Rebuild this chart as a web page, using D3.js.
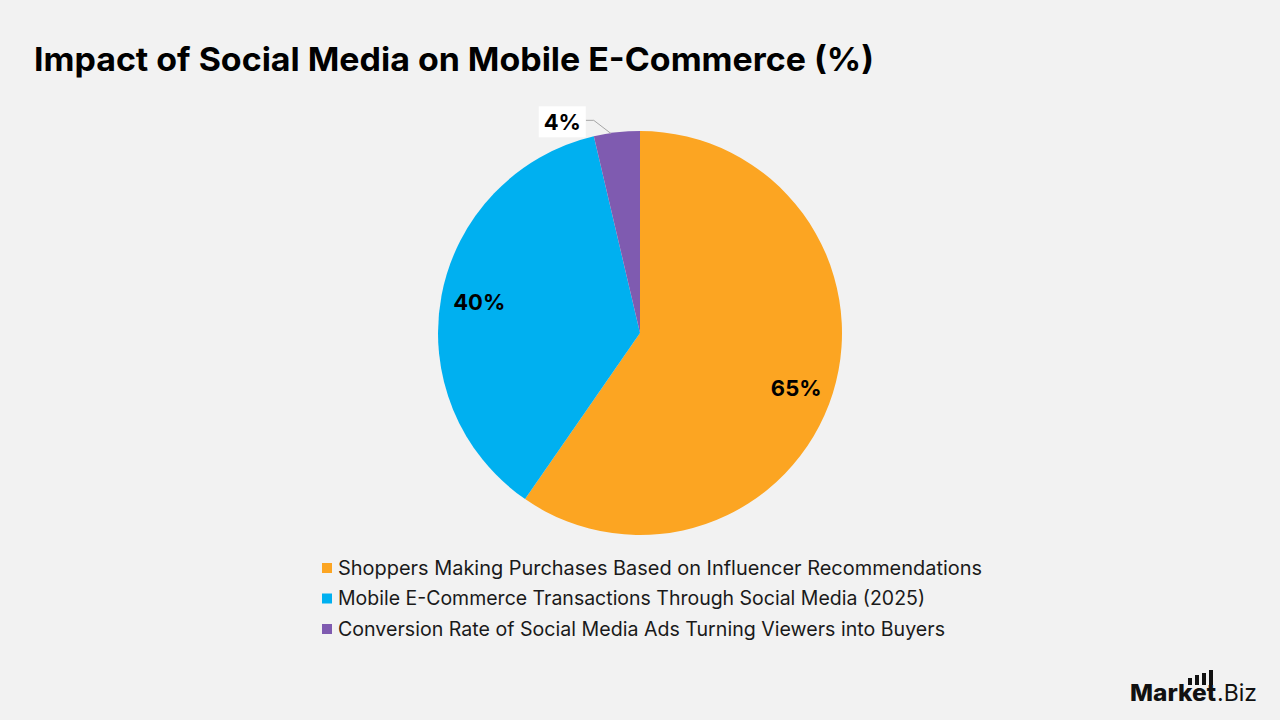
<!DOCTYPE html>
<html>
<head>
<meta charset="utf-8">
<script src="https://cdn.jsdelivr.net/npm/d3@7"></script>
<style>
  body { margin: 0; background: #f2f2f2; }
  svg { display: block; font-family: "Inter", "Open Sans", sans-serif; }
</style>
</head>
<body>
<svg id="chart" width="1280" height="720"></svg>
<script>
"use strict";

const categories = [
    "Shoppers Making Purchases Based on Influencer Recommendations",
    "Mobile E-Commerce Transactions Through Social Media (2025)",
    "Conversion Rate of Social Media Ads Turning Viewers into Buyers"
];
const values = [65, 40, 4];
const colors = ["#fca522", "#00b0f0", "#7f5bb0"];
const legendWidths = [644, 587, 607];

const svg = d3.select("#chart");
const cx = 640, cy = 333, radius = 202;

svg.append("rect").attr("width", 1280).attr("height", 720).attr("fill", "#f2f2f2");

// title
svg.append("text")
    .attr("x", 34).attr("y", 71)
    .attr("font-size", 33).attr("font-weight", 700)
    .attr("textLength", 840).attr("lengthAdjust", "spacingAndGlyphs")
    .attr("fill", "#000")
    .text("Impact of Social Media on Mobile E-Commerce (%)");

const pie = d3.pie().sort(null).value((d) => d.value);
const arcs = pie(values.map((v, i) => ({ value: v, name: categories[i], color: colors[i], w: legendWidths[i] })));
const arc = d3.arc().innerRadius(0).outerRadius(radius);

const g = svg.append("g").attr("transform", `translate(${cx},${cy})`);
g.selectAll("path.slice")
    .data(arcs)
    .join("path")
    .attr("class", "slice")
    .attr("d", arc)
    .attr("fill", (d) => d.data.color);

// inside labels for the two large slices
const labelArc = d3.arc().innerRadius(radius * 0.81).outerRadius(radius * 0.81);
g.selectAll("text.inside")
    .data(arcs.filter((d) => d.data.value > 10))
    .join("text")
    .attr("class", "inside")
    .attr("transform", (d) => {
        const [x, y] = labelArc.centroid(d);
        // labels in the lower half sit a little lower
        return `translate(${x},${y > 0 ? y + 7 : y})`;
    })
    .attr("text-anchor", "middle")
    .attr("dy", "0.35em")
    .attr("font-size", 22).attr("font-weight", 700)
    .text((d) => `${d.data.value}%`);

// outside label for the small slice, with leader line
const small = arcs.filter((d) => d.data.value <= 10);
small.forEach((d) => {
    const mid = (d.startAngle + d.endAngle) / 2;
    const edge = [Math.sin(mid) * radius, -Math.cos(mid) * radius];
    const lx = edge[0] - 31, ly = edge[1] - 10;
    g.append("polyline")
        .attr("points", `${edge[0] - 6},${edge[1] + 1} ${lx + 8},${ly - 2} ${lx},${ly - 2}`)
        .attr("fill", "none").attr("stroke", "#a6a6a6").attr("stroke-width", 1);
    g.append("rect")
        .attr("x", lx - 47).attr("y", ly - 16)
        .attr("width", 47).attr("height", 31)
        .attr("fill", "#fff");
    g.append("text")
        .attr("x", lx - 23.5).attr("y", ly)
        .attr("text-anchor", "middle").attr("dy", "0.35em")
        .attr("font-size", 22).attr("font-weight", 700)
        .text(`${d.data.value}%`);
});

// legend
const legend = svg.append("g").attr("transform", "translate(322,568)");
const rows = legend.selectAll("g")
    .data(arcs)
    .join("g")
    .attr("transform", (d, i) => `translate(0,${i * 30.5})`);
rows.append("rect")
    .attr("x", 0).attr("y", -5).attr("width", 10).attr("height", 10)
    .attr("fill", (d) => d.data.color);
rows.append("text")
    .attr("x", 16).attr("dy", "0.35em")
    .attr("font-size", 19.5).attr("fill", "#1a1a1a")
    .attr("textLength", (d) => d.data.w).attr("lengthAdjust", "spacingAndGlyphs")
    .text((d) => d.data.name);

// logo
const logo = svg.append("g").attr("transform", "translate(1130,701)");
logo.append("text")
    .attr("x", 0).attr("y", 0)
    .attr("font-size", 23).attr("font-weight", 800).attr("fill", "#111")
    .attr("textLength", 86).attr("lengthAdjust", "spacingAndGlyphs")
    .text("Market");
logo.append("text")
    .attr("x", 87).attr("y", 0)
    .attr("font-size", 23).attr("font-weight", 400).attr("fill", "#111")
    .attr("textLength", 40).attr("lengthAdjust", "spacingAndGlyphs")
    .text(".Biz");
const barHeights = [7, 10, 12, 15];
logo.selectAll("rect.bar")
    .data(barHeights)
    .join("rect")
    .attr("class", "bar")
    .attr("x", (d, i) => 58 + i * 7)
    .attr("y", (d) => -16 - d)
    .attr("width", 4)
    .attr("height", (d) => d)
    .attr("fill", "#111");
</script>
</body>
</html>
